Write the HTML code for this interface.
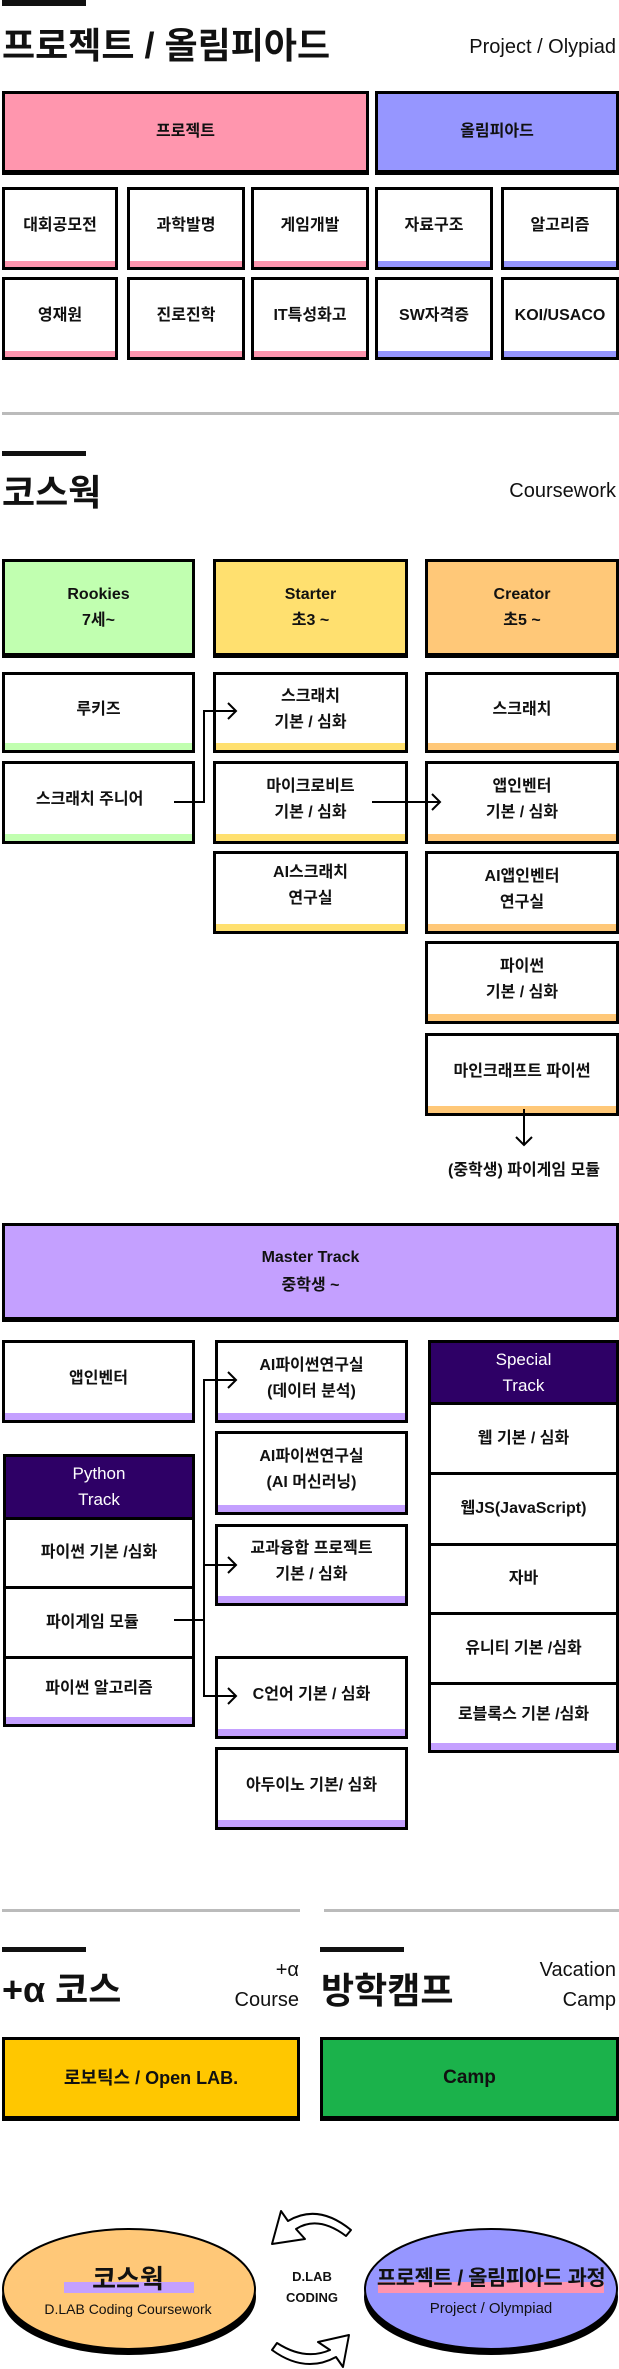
<!DOCTYPE html>
<html><head><meta charset="utf-8">
<style>
*{margin:0;padding:0;box-sizing:border-box}
body{width:619px;height:2369px;position:relative;background:#fff;font-family:"Liberation Sans","Noto Sans CJK KR",sans-serif;color:#111;overflow:hidden}
.a{position:absolute}
.bar{position:absolute;height:5px;background:#111}
.gl{position:absolute;height:3px;background:#bbb}
.t{position:absolute;font-weight:bold;font-size:36px;line-height:40px;white-space:nowrap;letter-spacing:0}
.s{position:absolute;font-size:20px;line-height:24px;text-align:right;white-space:nowrap}
.b{position:absolute;border:3px solid #000;background:#fff;display:flex;align-items:center;justify-content:center;text-align:center;font-weight:bold;font-size:16px;line-height:26px;white-space:nowrap}
.st{padding-bottom:6px}
.h{border-bottom-width:5px}
</style></head><body>

<!-- Section 1 -->
<div class="bar" style="left:2px;top:0;width:84px;height:6px"></div>
<div class="t" style="left:2px;top:26px">프로젝트 / 올림피아드</div>
<div class="s" style="right:3px;top:35px">Project / Olypiad</div>

<div class="b h" style="left:2px;top:91px;width:367px;height:84px;background:#ff96ae">프로젝트</div>
<div class="b h" style="left:375px;top:91px;width:244px;height:84px;background:#9696ff">올림피아드</div>

<div class="b st" style="left:2px;top:187px;width:116px;height:83px;box-shadow:inset 0 -6px 0 #ff96ae">대회공모전</div>
<div class="b st" style="left:127px;top:187px;width:118px;height:83px;box-shadow:inset 0 -6px 0 #ff96ae">과학발명</div>
<div class="b st" style="left:251px;top:187px;width:118px;height:83px;box-shadow:inset 0 -6px 0 #ff96ae">게임개발</div>
<div class="b st" style="left:375px;top:187px;width:118px;height:83px;box-shadow:inset 0 -6px 0 #9696ff">자료구조</div>
<div class="b st" style="left:501px;top:187px;width:118px;height:83px;box-shadow:inset 0 -6px 0 #9696ff">알고리즘</div>

<div class="b st" style="left:2px;top:277px;width:116px;height:83px;box-shadow:inset 0 -6px 0 #ff96ae">영재원</div>
<div class="b st" style="left:127px;top:277px;width:118px;height:83px;box-shadow:inset 0 -6px 0 #ff96ae">진로진학</div>
<div class="b st" style="left:251px;top:277px;width:118px;height:83px;box-shadow:inset 0 -6px 0 #ff96ae">IT특성화고</div>
<div class="b st" style="left:375px;top:277px;width:118px;height:83px;box-shadow:inset 0 -6px 0 #9696ff">SW자격증</div>
<div class="b st" style="left:501px;top:277px;width:118px;height:83px;box-shadow:inset 0 -6px 0 #9696ff">KOI/USACO</div>

<div class="gl" style="left:2px;top:412px;width:617px"></div>

<!-- Section 2 -->
<div class="bar" style="left:2px;top:451px;width:84px"></div>
<div class="t" style="left:2px;top:473px">코스웍</div>
<div class="s" style="right:3px;top:479px">Coursework</div>

<div class="b h" style="left:2px;top:559px;width:193px;height:99px;background:#c1ffb0">Rookies<br>7세~</div>
<div class="b h" style="left:213px;top:559px;width:195px;height:99px;background:#ffe06f">Starter<br>초3 ~</div>
<div class="b h" style="left:425px;top:559px;width:194px;height:99px;background:#ffc878">Creator<br>초5 ~</div>

<div class="b st" style="left:2px;top:672px;width:193px;height:81px;box-shadow:inset 0 -7px 0 #c1ffb0">루키즈</div>
<div class="b st" style="left:2px;top:761px;width:193px;height:83px;box-shadow:inset 0 -7px 0 #c1ffb0">스크래치 주니어&nbsp;&nbsp;&nbsp;&nbsp;</div>

<div class="b st" style="left:213px;top:672px;width:195px;height:81px;box-shadow:inset 0 -7px 0 #ffe06f">스크래치<br>기본 / 심화</div>
<div class="b st" style="left:213px;top:761px;width:195px;height:83px;box-shadow:inset 0 -7px 0 #ffe06f">마이크로비트<br>기본 / 심화</div>
<div class="b st" style="left:213px;top:851px;width:195px;height:83px;box-shadow:inset 0 -7px 0 #ffe06f;padding-bottom:14px">AI스크래치<br>연구실</div>

<div class="b st" style="left:425px;top:672px;width:194px;height:81px;box-shadow:inset 0 -7px 0 #ffc878">스크래치</div>
<div class="b st" style="left:425px;top:761px;width:194px;height:83px;box-shadow:inset 0 -7px 0 #ffc878">앱인벤터<br>기본 / 심화</div>
<div class="b st" style="left:425px;top:851px;width:194px;height:83px;box-shadow:inset 0 -7px 0 #ffc878">AI앱인벤터<br>연구실</div>
<div class="b st" style="left:425px;top:941px;width:194px;height:83px;box-shadow:inset 0 -7px 0 #ffc878">파이썬<br>기본 / 심화</div>
<div class="b st" style="left:425px;top:1033px;width:194px;height:83px;box-shadow:inset 0 -7px 0 #ffc878">마인크래프트 파이썬</div>
<div class="a" style="left:424px;top:1159px;width:200px;text-align:center;font-weight:bold;font-size:16px;line-height:24px;white-space:nowrap">(중학생) 파이게임 모듈</div>

<!-- Section 3 -->
<div class="b h" style="left:2px;top:1223px;width:617px;height:99px;background:#c4a0ff;line-height:28px">Master Track<br>중학생 ~</div>

<div class="b st" style="left:2px;top:1340px;width:193px;height:83px;box-shadow:inset 0 -7px 0 #c4a0ff">앱인벤터</div>

<div class="b" style="left:3px;top:1454px;width:192px;height:66px;background:#2e0066;color:#fff;font-weight:normal;font-size:17px;line-height:26px">Python<br>Track</div>
<div class="b" style="left:3px;top:1517px;width:192px;height:72px">파이썬 기본 /심화</div>
<div class="b" style="left:3px;top:1586px;width:192px;height:73px">파이게임 모듈&nbsp;&nbsp;&nbsp;</div>
<div class="b st" style="left:3px;top:1656px;width:192px;height:71px;box-shadow:inset 0 -7px 0 #c4a0ff">파이썬 알고리즘</div>

<div class="b st" style="left:215px;top:1340px;width:193px;height:83px;box-shadow:inset 0 -7px 0 #c4a0ff">AI파이썬연구실<br>(데이터 분석)</div>
<div class="b st" style="left:215px;top:1431px;width:193px;height:84px;box-shadow:inset 0 -7px 0 #c4a0ff">AI파이썬연구실<br>(AI 머신러닝)</div>
<div class="b st" style="left:215px;top:1524px;width:193px;height:82px;box-shadow:inset 0 -7px 0 #c4a0ff">교과융합 프로젝트<br>기본 / 심화</div>
<div class="b st" style="left:215px;top:1656px;width:193px;height:83px;box-shadow:inset 0 -7px 0 #c4a0ff">C언어 기본 / 심화</div>
<div class="b st" style="left:215px;top:1747px;width:193px;height:83px;box-shadow:inset 0 -7px 0 #c4a0ff">아두이노 기본/ 심화</div>

<div class="b" style="left:428px;top:1340px;width:191px;height:65px;background:#2e0066;color:#fff;font-weight:normal;font-size:17px;line-height:26px">Special<br>Track</div>
<div class="b" style="left:428px;top:1402px;width:191px;height:73px">웹 기본 / 심화</div>
<div class="b" style="left:428px;top:1472px;width:191px;height:74px">웹JS(JavaScript)</div>
<div class="b" style="left:428px;top:1543px;width:191px;height:72px">자바</div>
<div class="b" style="left:428px;top:1612px;width:191px;height:73px">유니티 기본 /심화</div>
<div class="b st" style="left:428px;top:1682px;width:191px;height:71px;box-shadow:inset 0 -7px 0 #c4a0ff">로블록스 기본 /심화</div>

<!-- Section 4 -->
<div class="gl" style="left:2px;top:1909px;width:298px"></div>
<div class="gl" style="left:324px;top:1909px;width:295px"></div>
<div class="bar" style="left:2px;top:1947px;width:84px"></div>
<div class="bar" style="left:320px;top:1947px;width:84px"></div>
<div class="t" style="left:2px;top:1970px">+α 코스</div>
<div class="s" style="left:200px;width:99px;top:1955px;line-height:30px">+α<br>Course</div>
<div class="t" style="left:321px;top:1971px">방학캠프</div>
<div class="s" style="left:500px;width:116px;top:1955px;line-height:30px">Vacation<br>Camp</div>

<div class="b h" style="left:2px;top:2037px;width:298px;height:84px;background:#ffc700;font-size:18px">로보틱스 / Open LAB.</div>
<div class="b h" style="left:320px;top:2037px;width:299px;height:84px;background:#1bb24b;font-size:19px">Camp</div>

<svg class="a" style="left:0;top:0" width="619" height="2369" viewBox="0 0 619 2369">
<g fill="none" stroke="#000" stroke-width="2">
<polyline points="174,802 204,802 204,711 236,711"/>
<polyline points="228,703 236,711 228,719"/>
<line x1="372" y1="802" x2="440" y2="802"/>
<polyline points="432,794 440,802 432,810"/>
<line x1="524" y1="1109" x2="524" y2="1145"/>
<polyline points="516,1137 524,1145 532,1137"/>
<line x1="174" y1="1620" x2="204" y2="1620"/>
<polyline points="236,1380 204,1380 204,1696 236,1696"/>
<line x1="204" y1="1565" x2="236" y2="1565"/>
<polyline points="228,1372 236,1380 228,1388"/>
<polyline points="228,1557 236,1565 228,1573"/>
<polyline points="228,1688 236,1696 228,1704"/>
</g>
<ellipse cx="129" cy="2297" rx="127" ry="58" fill="#000"/>
<ellipse cx="129" cy="2289" rx="126" ry="60" fill="#ffc878" stroke="#000" stroke-width="2"/>
<ellipse cx="491" cy="2297" rx="127" ry="58" fill="#000"/>
<ellipse cx="491" cy="2289" rx="126" ry="60" fill="#9696ff" stroke="#000" stroke-width="2"/>
<rect x="64" y="2282" width="130" height="11" fill="#c4a0ff"/>
<rect x="378" y="2282" width="226" height="11" fill="#ff94ae"/>
<path d="M272 2244 L281 2211 L288 2221 Q318 2203 351 2230 L346 2236 Q318 2215 296 2229 L305 2239 Z" fill="#fff" stroke="#000" stroke-width="2" stroke-linejoin="round"/>
<path d="M349 2335 L343 2367 L336 2357 Q305 2374 272 2350 L277 2343 Q305 2361 330 2350 L318 2342 Z" fill="#fff" stroke="#000" stroke-width="2" stroke-linejoin="round"/>
</svg>

<div class="a" style="left:28px;top:2264px;width:200px;text-align:center;font-weight:bold;font-size:26px;line-height:30px">코스웍</div>
<div class="a" style="left:28px;top:2299px;width:200px;text-align:center;font-size:14px;line-height:20px;white-space:nowrap">D.LAB Coding Coursework</div>
<div class="a" style="left:371px;top:2265px;width:240px;text-align:center;font-weight:bold;font-size:21px;line-height:28px;white-space:nowrap;letter-spacing:-0.5px">프로젝트 / 올림피아드 과정</div>
<div class="a" style="left:371px;top:2299px;width:240px;text-align:center;font-size:15px;line-height:20px">Project / Olympiad</div>
<div class="a" style="left:262px;top:2266px;width:100px;text-align:center;font-weight:bold;font-size:13px;line-height:21px">D.LAB<br>CODING</div>

</body></html>
